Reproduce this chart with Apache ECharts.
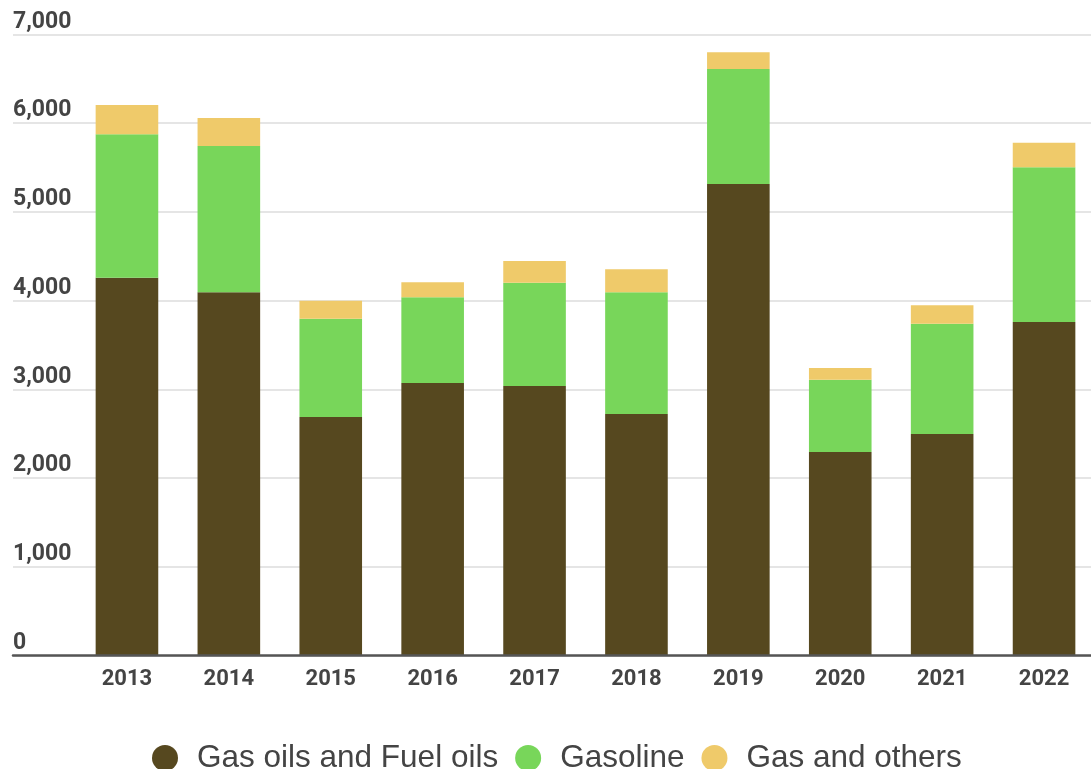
<!DOCTYPE html>
<html>
<head>
<meta charset="utf-8">
<script src="https://cdn.jsdelivr.net/npm/echarts@6/dist/echarts.min.js"></script>
<style>
  html, body { margin: 0; padding: 0; background: #fff; overflow: hidden; }
  #main { width: 1095px; height: 769px; }
</style>
</head>
<body>
<div id="main"></div>
<script>
// 年份
var years = ['2013', '2014', '2015', '2016', '2017', '2018', '2019', '2020', '2021', '2022'];
// 各系列数值
var gasOils = [4259, 4094, 2689, 3072, 3038, 2722, 5315, 2294, 2497, 3759];
var gasoline = [1616, 1649, 1108, 966, 1165, 1372, 1296, 815, 1243, 1744];
var gasOthers = [331, 316, 203, 169, 244, 259, 189, 132, 208, 278];
var seriesNames = ['Gas oils and Fuel oils', 'Gasoline', 'Gas and others'];
var yTicks = [0, 1000, 2000, 3000, 4000, 5000, 6000, 7000];

(function () {
    var myChart = echarts.init(document.getElementById('main'));
    var option;

    var barColors = ['#56481F', '#78D65A', '#EFCA6A'];
    var dataList = [gasOils, gasoline, gasOthers];

    var series = [];
    for (var i = 0; i < dataList.length; i++) {
        series.push({
            name: seriesNames[i],
            type: 'bar',
            stack: 'total',
            xAxisIndex: 0,
            yAxisIndex: 0,
            barWidth: 62.6,
            color: barColors[i],
            data: dataList[i]
        });
    }

    option = {
        animation: false,
        backgroundColor: '#fff',
        grid: [
            // 柱子
            { left: 76, right: 0, top: 34.5, height: 621 },
            // 网格线和纵轴标签
            { left: 13, right: 4, top: 34.5, height: 621 }
        ],
        legend: {
            left: 147,
            top: 737,
            icon: 'circle',
            itemWidth: 26,
            itemHeight: 26,
            itemGap: 17,
            data: seriesNames,
            textStyle: {
                color: '#444',
                fontFamily: 'Liberation Sans, Arial, sans-serif',
                fontSize: 31.5,
                lineHeight: 32,
                padding: [0, 0, 0, 14]
            }
        },
        xAxis: [
            {
                type: 'category',
                gridIndex: 0,
                data: years,
                axisLine: { show: false },
                axisTick: { show: false },
                axisLabel: {
                    color: '#444',
                    fontFamily: 'Roboto',
                    fontWeight: 'bold',
                    fontSize: 22,
                    margin: 13
                }
            },
            {
                type: 'value',
                gridIndex: 1,
                min: 0,
                max: 1,
                z: 5,
                axisLine: { show: true, lineStyle: { color: '#555', width: 2.5 } },
                axisTick: { show: false },
                axisLabel: { show: false },
                splitLine: { show: false }
            }
        ],
        yAxis: [
            {
                type: 'value',
                gridIndex: 0,
                min: yTicks[0],
                max: yTicks[yTicks.length - 1],
                interval: 1000,
                show: false,
                splitLine: { show: false }
            },
            {
                type: 'value',
                gridIndex: 1,
                min: yTicks[0],
                max: yTicks[yTicks.length - 1],
                interval: 1000,
                axisLine: { show: false },
                axisTick: { show: false },
                splitLine: { lineStyle: { color: '#dcdcdc', width: 1.5 } },
                axisLabel: {
                    inside: true,
                    margin: 0,
                    verticalAlign: 'bottom',
                    padding: [0, 0, 1, 0],
                    color: '#444',
                    fontFamily: 'Roboto',
                    fontWeight: 'bold',
                    fontSize: 23,
                    formatter: function (v) { return v.toLocaleString('en-US'); }
                }
            }
        ],
        series: series
    };

    myChart.setOption(option);
    window.addEventListener('resize', function () { myChart.resize(); });
})();
</script>
</body>
</html>
